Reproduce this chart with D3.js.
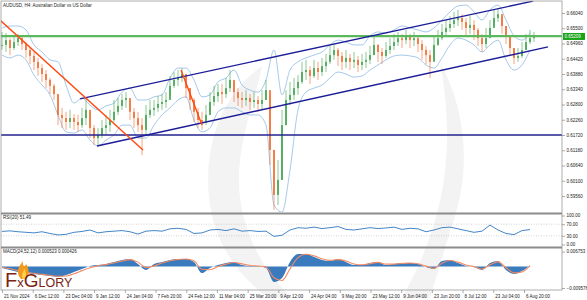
<!DOCTYPE html>
<html lang="en">
<head>
<meta charset="utf-8">
<title>AUDUSD H4</title>
<script src="https://cdn.jsdelivr.net/npm/d3@7"></script>
<style>
  body { margin: 0; background: #fff; }
  svg text { font-family: "Liberation Sans", Arial, sans-serif; }
</style>
</head>
<body>
<script>
var w = 587, h = 300;

// price candles, one sample every ~4px (close / high / low)
var closes = [0.6491,0.6508,0.6480,0.6501,0.6515,0.6494,0.6473,0.6452,0.6431,0.6409,
  0.6388,0.6367,0.6346,0.6317,0.6243,0.6232,0.6218,0.6232,0.6218,0.6207,
  0.6232,0.6261,0.6197,0.6161,0.6172,0.6197,0.6207,0.6225,0.6254,0.6275,
  0.6296,0.6303,0.6254,0.6232,0.6207,0.6190,0.6243,0.6261,0.6268,0.6282,
  0.6289,0.6296,0.6346,0.6367,0.6374,0.6388,0.6338,0.6296,0.6254,0.6225,
  0.6218,0.6243,0.6289,0.6310,0.6324,0.6317,0.6338,0.6367,0.6324,0.6303,
  0.6296,0.6303,0.6289,0.6296,0.6282,0.6296,0.6331,0.6119,0.5960,0.6013,
  0.6207,0.6296,0.6314,0.6338,0.6360,0.6395,0.6402,0.6381,0.6409,0.6395,
  0.6416,0.6431,0.6455,0.6473,0.6452,0.6431,0.6445,0.6431,0.6438,0.6420,
  0.6431,0.6438,0.6455,0.6491,0.6466,0.6452,0.6473,0.6487,0.6501,0.6515,
  0.6508,0.6523,0.6508,0.6515,0.6494,0.6473,0.6455,0.6431,0.6491,0.6515,
  0.6537,0.6551,0.6565,0.6579,0.6586,0.6572,0.6551,0.6562,0.6544,0.6515,
  0.6494,0.6515,0.6551,0.6586,0.6600,0.6558,0.6523,0.6480,0.6445,0.6452,
  0.6473,0.6501,0.6515,0.65209];
var highs = [0.6537,0.6533,0.6515,0.6523,0.6530,0.6523,0.6501,0.6480,0.6466,0.6445,
  0.6423,0.6402,0.6374,0.6353,0.6314,0.6268,0.6254,0.6261,0.6246,0.6243,
  0.6268,0.6303,0.6254,0.6207,0.6197,0.6225,0.6243,0.6261,0.6296,0.6303,
  0.6317,0.6324,0.6296,0.6268,0.6254,0.6232,0.6278,0.6296,0.6296,0.6310,
  0.6317,0.6324,0.6381,0.6395,0.6402,0.6409,0.6374,0.6338,0.6303,0.6268,
  0.6254,0.6278,0.6324,0.6346,0.6353,0.6353,0.6374,0.6402,0.6360,0.6338,
  0.6324,0.6331,0.6317,0.6324,0.6310,0.6331,0.6367,0.6314,0.6119,0.6083,
  0.6261,0.6331,0.6360,0.6374,0.6384,0.6431,0.6438,0.6416,0.6438,0.6431,
  0.6445,0.6459,0.6487,0.6494,0.6480,0.6466,0.6473,0.6459,0.6466,0.6452,
  0.6459,0.6466,0.6487,0.6526,0.6494,0.6480,0.6501,0.6515,0.6530,0.6537,
  0.6530,0.6544,0.6530,0.6537,0.6523,0.6508,0.6487,0.6473,0.6523,0.6544,
  0.6565,0.6579,0.6593,0.6608,0.6615,0.6600,0.6586,0.6593,0.6579,0.6551,
  0.6530,0.6551,0.6579,0.6615,0.6622,0.6593,0.6558,0.6515,0.6480,0.6480,
  0.6501,0.6530,0.6544,0.6537];
var lows = [0.6473,0.6466,0.6455,0.6473,0.6487,0.6473,0.6445,0.6423,0.6402,0.6381,
  0.6360,0.6338,0.6317,0.6296,0.6207,0.6197,0.6190,0.6197,0.6190,0.6183,
  0.6197,0.6207,0.6161,0.6137,0.6133,0.6161,0.6172,0.6183,0.6218,0.6243,
  0.6261,0.6268,0.6225,0.6197,0.6183,0.6101,0.6172,0.6232,0.6239,0.6254,
  0.6261,0.6268,0.6310,0.6338,0.6346,0.6360,0.6303,0.6261,0.6218,0.6197,
  0.6190,0.6207,0.6254,0.6275,0.6289,0.6282,0.6303,0.6324,0.6289,0.6275,
  0.6268,0.6275,0.6261,0.6268,0.6254,0.6261,0.6296,0.6066,0.5907,0.5924,
  0.6013,0.6207,0.6278,0.6296,0.6314,0.6353,0.6367,0.6353,0.6374,0.6367,
  0.6381,0.6395,0.6423,0.6438,0.6416,0.6402,0.6409,0.6402,0.6409,0.6395,
  0.6402,0.6409,0.6423,0.6455,0.6431,0.6423,0.6445,0.6459,0.6473,0.6487,
  0.6480,0.6494,0.6480,0.6487,0.6466,0.6438,0.6423,0.6374,0.6438,0.6487,
  0.6508,0.6523,0.6537,0.6551,0.6558,0.6544,0.6523,0.6530,0.6508,0.6487,
  0.6466,0.6480,0.6523,0.6558,0.6572,0.6530,0.6494,0.6452,0.6423,0.6431,
  0.6445,0.6473,0.6494,0.6501];

// Bollinger bands, one sample every ~8px
var bandUpper = [0.6551,0.6558,0.6558,0.6544,0.6491,0.6466,0.6438,0.6431,0.6349,0.6285,
  0.6303,0.6278,0.6261,0.6275,0.6285,0.6324,0.6338,0.6296,0.6296,0.6307,
  0.6314,0.6374,0.6409,0.6409,0.6367,0.6307,0.6314,0.6360,0.6374,0.6402,
  0.6349,0.6331,0.6324,0.6367,0.6473,0.6314,0.6402,0.6431,0.6445,0.6455,
  0.6466,0.6491,0.6508,0.6501,0.6491,0.6491,0.6523,0.6537,0.6533,0.6544,
  0.6558,0.6551,0.6544,0.6537,0.6551,0.6579,0.6608,0.6629,0.6632,0.6608,
  0.6579,0.6615,0.6632,0.6579,0.6523,0.6508,0.6533];
var bandLower = [0.6455,0.6445,0.6455,0.6438,0.6384,0.6349,0.6314,0.6243,0.6183,0.6179,
  0.6190,0.6154,0.6133,0.6154,0.6172,0.6207,0.6207,0.6161,0.6161,0.6207,
  0.6243,0.6268,0.6296,0.6307,0.6225,0.6183,0.6197,0.6254,0.6268,0.6268,
  0.6254,0.6243,0.6243,0.6207,0.5924,0.5899,0.6048,0.6261,0.6324,0.6338,
  0.6349,0.6374,0.6395,0.6388,0.6377,0.6381,0.6402,0.6420,0.6438,0.6452,
  0.6455,0.6452,0.6445,0.6420,0.6409,0.6445,0.6491,0.6515,0.6508,0.6491,
  0.6466,0.6491,0.6508,0.6438,0.6402,0.6420,0.6473];

// RSI(20), one sample every ~8px
var rsi = [45,47,44,42,40,44,38,33,35,42,45,50,40,44,46,48,44,36,46,48,
  46,54,56,52,38,40,50,52,48,54,46,48,45,46,28,32,50,58,56,60,
  55,58,62,52,50,54,58,55,57,60,52,56,54,44,50,58,60,54,48,42,
  46,67,50,38,34,48,51.49];

// MACD(24,52,12) main and signal, one sample every ~8px
var macd = [-0.0006,-0.0015,-0.0024,-0.0029,-0.0033,-0.0038,-0.0042,-0.0046,-0.0038,-0.0024,
  -0.0011,0.0003,0.0007,0.0012,0.0021,0.0030,0.0034,0.0012,-0.0015,0.0012,
  0.0021,0.0030,0.0034,0.0034,0.0021,-0.0029,-0.0006,0.0007,0.0016,0.0021,
  0.0007,0.0003,0.0003,-0.0006,-0.0069,-0.0051,0.0021,0.0056,0.0056,0.0043,
  0.0030,0.0025,0.0034,0.0021,0.0007,0.0007,0.0016,0.0021,0.0007,0.0012,
  0.0016,0.0016,0.0012,-0.0002,-0.0011,0.0025,0.0030,0.0016,0.0003,-0.0002,
  -0.0015,0.0016,0.0025,-0.0015,-0.0033,-0.0020,0.000523];
var signal = [-0.0003,-0.0010,-0.0018,-0.0025,-0.0030,-0.0035,-0.0039,-0.0043,-0.0042,-0.0032,
  -0.0018,-0.0005,0.0004,0.0009,0.0016,0.0025,0.0031,0.0020,-0.0005,0.0003,
  0.0016,0.0026,0.0032,0.0034,0.0026,-0.0012,-0.0014,0.0000,0.0011,0.0018,
  0.0012,0.0005,0.0003,-0.0002,-0.0050,-0.0062,-0.0010,0.0040,0.0055,0.0048,
  0.0035,0.0028,0.0031,0.0025,0.0012,0.0008,0.0013,0.0019,0.0011,0.0011,
  0.0014,0.0016,0.0013,0.0002,-0.0008,0.0015,0.0027,0.0020,0.0007,0.0000,
  -0.0011,0.0008,0.0021,-0.0005,-0.0028,-0.0024,0.000426];

var priceTicks = [0.66040,0.65500,0.64960,0.64420,0.63880,0.63340,0.62800,
  0.62260,0.61720,0.61180,0.60640,0.60100,0.59560];
var rsiTicks = [100, 70, 30, 0];
var macdTicks = [0.006753, -0.009576];
var dateLabels = ["21 Nov 2024","6 Dec 12:00","23 Dec 04:00","9 Jan 12:00","24 Jan 04:00",
  "7 Feb 20:00","24 Feb 12:00","11 Mar 04:00","25 Mar 20:00","9 Apr 12:00","24 Apr 04:00",
  "9 May 20:00","23 May 12:00","9 Jun 04:00","23 Jun 20:00","8 Jul 12:00","23 Jul 04:00",
  "6 Aug 20:00"];

// drawn objects, in (candle index, price)
var hLevels = [{p: 0.6522, c: "#5cb85c", sw: 2.4}, {p: 0.6172, c: "#23238f", sw: 1.3}];
var trendLines = [
  {a: [19.5, 0.6300], b: [132.75, 0.6646], c: "#1d1d99"},
  {a: [23.75, 0.6133], b: [136.5, 0.6484], c: "#1d1d99"},
  {a: [-0.5, 0.6579], b: [35.25, 0.6119], c: "#ff4a12"},
  {a: [44.75, 0.6402], b: [50, 0.6207], c: "#ff4a12"}
];

var right = 562, mainTop = 1, mainBot = 212;

var svg = d3.select("body").append("svg")
  .attr("width", w).attr("height", h);

var x = d3.scaleLinear().domain([0, closes.length - 1]).range([2, 534]);
var xb = d3.scaleLinear().domain([0, bandUpper.length - 1]).range([2, 530]);
var y = d3.scaleLinear().domain([0.59560, 0.66040]).range([196, 13]);
var yr = d3.scaleLinear().domain([0, 100]).range([244.5, 215.5]);
var ym = d3.scaleLinear().domain([-0.009576, 0.006753]).range([288, 251.5]);
var xl = d3.scaleLinear().domain([0, dateLabels.length - 1]).range([2, 524]);

svg.append("defs").append("clipPath").attr("id", "mainclip")
  .append("rect").attr("x", 1).attr("y", mainTop).attr("width", right - 1).attr("height", mainBot - mainTop);

// faint watermark
var wm = svg.append("g").attr("fill", "#f3f3f3");
wm.append("path").attr("d", "M262,66 C220,95 202,150 210,205 C216,245 238,275 268,298 L292,298 C252,260 234,210 240,160 C246,118 258,88 262,66 Z");
wm.append("path").attr("d", "M440,62 C466,110 472,170 452,225 L430,298 L402,298 C440,230 458,160 440,62 Z");

var main = svg.append("g").attr("clip-path", "url(#mainclip)");

// bollinger bands
[bandUpper, bandLower].forEach(function(arr) {
  main.append("path")
    .attr("d", d3.line().x(function(d, i) { return xb(i); }).y(function(d) { return y(d); })
      .curve(d3.curveMonotoneX)(arr))
    .attr("fill", "none").attr("stroke", "#8fbbe3").attr("stroke-width", 0.8);
});

// candles
function candleColor(d, i) { return d >= (i ? closes[i - 1] : d) ? "#3aa34a" : "#f26a2a"; }

var candles = main.selectAll("g.candle")
  .data(closes)
  .enter().append("g").attr("class", "candle");

candles.append("line")
  .attr("x1", function(d, i) { return x(i); })
  .attr("x2", function(d, i) { return x(i); })
  .attr("y1", function(d, i) { return y(highs[i]); })
  .attr("y2", function(d, i) { return y(lows[i]); })
  .attr("stroke", candleColor)
  .attr("stroke-width", 0.6);

candles.append("rect")
  .attr("x", function(d, i) { return x(i) - 0.8; })
  .attr("width", 1.6)
  .attr("y", function(d, i) { var o = i ? closes[i - 1] : d; return y(Math.max(o, d)); })
  .attr("height", function(d, i) { var o = i ? closes[i - 1] : d; return Math.max(1, Math.abs(y(o) - y(d))); })
  .attr("fill", candleColor);

// horizontal levels
main.selectAll("line.level")
  .data(hLevels)
  .enter().append("line").attr("class", "level")
  .attr("x1", 1).attr("x2", right)
  .attr("y1", function(d) { return y(d.p); })
  .attr("y2", function(d) { return y(d.p); })
  .attr("stroke", function(d) { return d.c; })
  .attr("stroke-width", function(d) { return d.sw; });

// trend lines
main.selectAll("line.trend")
  .data(trendLines)
  .enter().append("line").attr("class", "trend")
  .attr("x1", function(d) { return x(d.a[0]); })
  .attr("y1", function(d) { return y(d.a[1]); })
  .attr("x2", function(d) { return x(d.b[0]); })
  .attr("y2", function(d) { return y(d.b[1]); })
  .attr("stroke", function(d) { return d.c; })
  .attr("stroke-width", 1.4);

// RSI panel
svg.selectAll("line.rsiLevel")
  .data([70, 30])
  .enter().append("line").attr("class", "rsiLevel")
  .attr("x1", 1).attr("x2", right)
  .attr("y1", function(d) { return yr(d); })
  .attr("y2", function(d) { return yr(d); })
  .attr("stroke", "#b5b5b5").attr("stroke-width", 0.6).attr("stroke-dasharray", "1,1.5");

svg.append("path")
  .attr("d", d3.line().x(function(d, i) { return xb(i); }).y(function(d) { return yr(d); })(rsi))
  .attr("fill", "none").attr("stroke", "#2f78c2").attr("stroke-width", 0.9);

// MACD panel
svg.append("path")
  .attr("d", d3.area().x(function(d, i) { return xb(i); }).y0(ym(0)).y1(function(d) { return ym(d); })
    .curve(d3.curveMonotoneX)(macd))
  .attr("fill", "#3a7bbd");

svg.append("path")
  .attr("d", d3.line().x(function(d, i) { return xb(i); }).y(function(d) { return ym(d); })
    .curve(d3.curveMonotoneX)(signal))
  .attr("fill", "none").attr("stroke", "#f58a62").attr("stroke-width", 1.1);

// frames and separators
svg.append("rect").attr("x", 1).attr("y", 1).attr("width", right - 1).attr("height", 289)
  .attr("fill", "none").attr("stroke", "#9a9a9a").attr("stroke-width", 0.8);
svg.selectAll("line.sep")
  .data([213.5, 247.5])
  .enter().append("line").attr("class", "sep")
  .attr("x1", 1).attr("x2", right)
  .attr("y1", function(d) { return d; }).attr("y2", function(d) { return d; })
  .attr("stroke", "#8c8c8c").attr("stroke-width", 2);

// axes
function styleAxis(g) {
  g.select(".domain").remove();
  g.selectAll(".tick line").attr("stroke", "#777").attr("stroke-width", 0.6);
  g.selectAll(".tick text").attr("fill", "#222").attr("font-size", 4.5)
    .attr("font-family", "Liberation Sans, Arial, sans-serif");
}

svg.append("g").attr("transform", "translate(" + right + ",0)")
  .call(d3.axisRight(y).tickValues(priceTicks).tickSize(3).tickPadding(1.5).tickFormat(d3.format(".5f")))
  .call(styleAxis);

svg.append("g").attr("transform", "translate(" + right + ",0)")
  .call(d3.axisRight(yr).tickValues(rsiTicks).tickSize(3).tickPadding(1.5).tickFormat(d3.format(".2f")))
  .call(styleAxis);

svg.append("g").attr("transform", "translate(" + right + ",0)")
  .call(d3.axisRight(ym).tickValues(macdTicks).tickSize(3).tickPadding(1.5).tickFormat(d3.format(".6f")))
  .call(styleAxis);

var xAxis = svg.append("g").attr("transform", "translate(0,290)")
  .call(d3.axisBottom(xl).tickValues(d3.range(dateLabels.length)).tickSize(3).tickPadding(1.5)
    .tickFormat(function(i) { return dateLabels[i]; }))
  .call(styleAxis);
xAxis.selectAll(".tick text").attr("text-anchor", "start").attr("dx", 1.5);

// current price tag
var last = closes[closes.length - 1];
svg.append("rect").attr("x", right + 1).attr("y", y(last) - 3.5).attr("width", 22).attr("height", 7)
  .attr("fill", "#19a319");
svg.append("text").attr("x", right + 2.5).attr("y", y(last) + 1.7)
  .attr("font-size", 4.5).attr("fill", "#fff").text(d3.format(".5f")(last));

// titles
svg.append("text").attr("x", 3).attr("y", 7).attr("font-size", 4.5).attr("fill", "#222")
  .text("AUDUSD, H4:  Australian Dollar vs US Dollar");
svg.append("text").attr("x", 3).attr("y", 218.5).attr("font-size", 4.5).attr("fill", "#222")
  .text("RSI(20) " + d3.format(".2f")(rsi[rsi.length - 1]));
svg.append("text").attr("x", 3).attr("y", 252.5).attr("font-size", 4.5).attr("fill", "#222")
  .text("MACD(24,52,12) " + d3.format(".6f")(macd[macd.length - 1]) + " " + d3.format(".6f")(signal[signal.length - 1]));

// FxGlory logo
var logo = svg.append("g");
logo.append("path").attr("d", "M21,279 C15,272 19,266 23,261 C22,266 25,268 26,264 C29,268 30,274 26,279 Z")
  .attr("fill", "#f39a1e");
logo.append("path").attr("d", "M23,279 C21,275 23,271 25,269 C25,272 27,274 26,279 Z").attr("fill", "#ffd24a");
var lt = logo.append("text").attr("x", 5).attr("y", 287)
  .attr("font-family", "Liberation Serif, DejaVu Serif, serif").attr("fill", "#7a2412");
lt.append("tspan").attr("font-size", 20).text("F");
lt.append("tspan").attr("font-size", 13).text("x");
lt.append("tspan").attr("font-size", 19).text("G");
lt.append("tspan").attr("font-size", 12.5).text("LORY");
</script>
</body>
</html>
